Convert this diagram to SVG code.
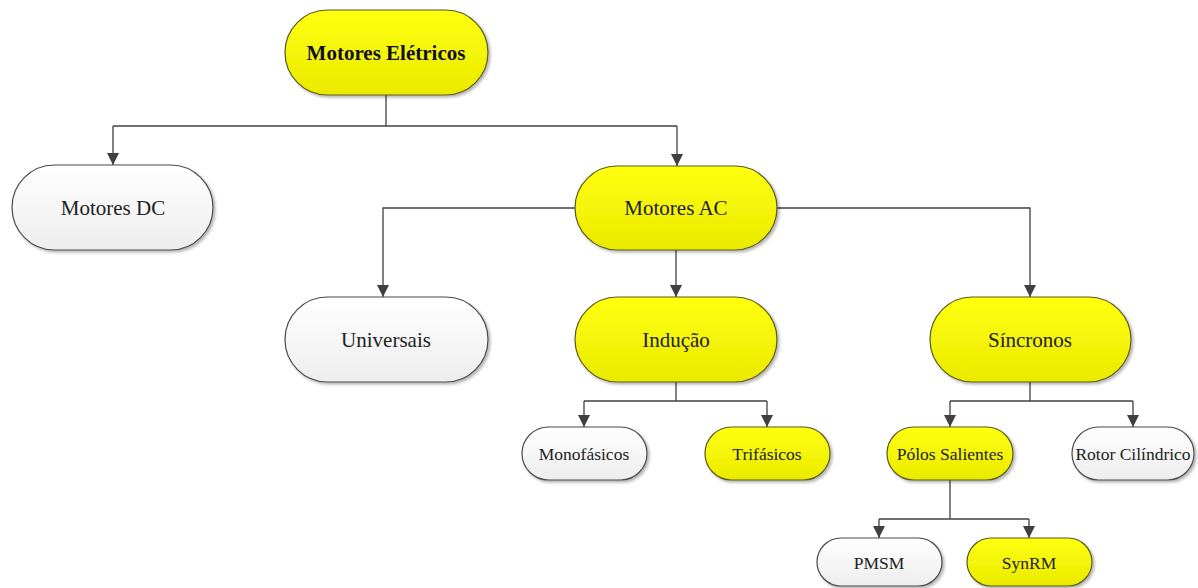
<svg xmlns="http://www.w3.org/2000/svg" width="1198" height="588" viewBox="0 0 1198 588">
<defs>
<linearGradient id="gy" x1="0" y1="0" x2="0" y2="1"><stop offset="0" stop-color="#FFFF10"/><stop offset="1" stop-color="#EAEA00"/></linearGradient>
<linearGradient id="gw" x1="0" y1="0" x2="0" y2="1"><stop offset="0" stop-color="#FFFFFF"/><stop offset="1" stop-color="#EDEDED"/></linearGradient>
<filter id="sh" x="-10%" y="-10%" width="125%" height="130%"><feGaussianBlur in="SourceAlpha" stdDeviation="1.5"/><feOffset dx="1.5" dy="2" result="b"/><feComponentTransfer><feFuncA type="linear" slope="0.3"/></feComponentTransfer><feMerge><feMergeNode/><feMergeNode in="SourceGraphic"/></feMerge></filter>
<marker id="ar" markerWidth="12" markerHeight="12" refX="10" refY="5" orient="auto" markerUnits="userSpaceOnUse" viewBox="0 0 10 10"><path d="M0,0 L10,5 L0,10 Z" fill="#404040"/></marker>
</defs>
<style>
.y{fill:url(#gy);stroke:#5a5a20;stroke-width:1.2;filter:url(#sh)}
.w{fill:url(#gw);stroke:#4a4a4a;stroke-width:1.2;filter:url(#sh)}
.c{fill:none;stroke:#404040;stroke-width:1.3}
.tx{fill:#222;text-anchor:middle;dominant-baseline:central}
.t{font-size:21px;font-weight:bold;fill:#111}
.m{font-size:21px}
.s{font-size:17.5px}
</style>
<rect width="1198" height="588" fill="#fff"/>
<g id="connectors">
<path class="c" d="M386,95 V126"/>
<path class="c" d="M113,126 H677"/>
<path class="c" d="M113,126 V165" marker-end="url(#ar)"/>
<path class="c" d="M677,126 V166" marker-end="url(#ar)"/>
<path class="c" d="M575,208 H383 V297" marker-end="url(#ar)"/>
<path class="c" d="M777,208 H1030 V297" marker-end="url(#ar)"/>
<path class="c" d="M676,250 V297" marker-end="url(#ar)"/>
<path class="c" d="M676,382 V401"/>
<path class="c" d="M584,401 H767"/>
<path class="c" d="M584,401 V427" marker-end="url(#ar)"/>
<path class="c" d="M767,401 V427" marker-end="url(#ar)"/>
<path class="c" d="M1030,382 V401"/>
<path class="c" d="M950,401 H1133"/>
<path class="c" d="M950,401 V427" marker-end="url(#ar)"/>
<path class="c" d="M1133,401 V427" marker-end="url(#ar)"/>
<path class="c" d="M950,480 V519"/>
<path class="c" d="M879,519 H1029"/>
<path class="c" d="M879,519 V538" marker-end="url(#ar)"/>
<path class="c" d="M1029,519 V538" marker-end="url(#ar)"/>
</g>
<g font-family="'Liberation Serif', 'Times New Roman', serif">
<g id="n-eletricos"><rect class="y" x="285" y="10" width="203" height="85" rx="42.5"/><text class="tx t" x="386" y="53">Motores Elétricos</text></g>
<g id="n-dc"><rect class="w" x="12" y="165" width="201" height="85" rx="42.5"/><text class="tx m" x="113" y="208">Motores DC</text></g>
<g id="n-ac"><rect class="y" x="575" y="166" width="202" height="84" rx="42"/><text class="tx m" x="676" y="208">Motores AC</text></g>
<g id="n-universais"><rect class="w" x="285" y="297" width="203" height="85" rx="42.5"/><text class="tx m" x="386" y="340">Universais</text></g>
<g id="n-inducao"><rect class="y" x="575" y="297" width="202" height="85" rx="42.5"/><text class="tx m" x="676" y="340">Indução</text></g>
<g id="n-sincronos"><rect class="y" x="930" y="297" width="201" height="85" rx="42.5"/><text class="tx m" x="1030" y="340">Síncronos</text></g>
<g id="n-monofasicos"><rect class="w" x="522" y="427" width="125" height="53" rx="26.5"/><text class="tx s" x="584" y="454">Monofásicos</text></g>
<g id="n-trifasicos"><rect class="y" x="705" y="427" width="125" height="53" rx="26.5"/><text class="tx s" x="767" y="454">Trifásicos</text></g>
<g id="n-polos"><rect class="y" x="887" y="427" width="126" height="53" rx="26.5"/><text class="tx s" x="950" y="454">Pólos Salientes</text></g>
<g id="n-rotor"><rect class="w" x="1072" y="427" width="122" height="53" rx="26.5"/><text class="tx s" x="1133" y="454">Rotor Cilíndrico</text></g>
<g id="n-pmsm"><rect class="w" x="817" y="538" width="125" height="48" rx="24"/><text class="tx s" x="879" y="563">PMSM</text></g>
<g id="n-synrm"><rect class="y" x="967" y="538" width="125" height="48" rx="24"/><text class="tx s" x="1029" y="563">SynRM</text></g>
</g>
</svg>
